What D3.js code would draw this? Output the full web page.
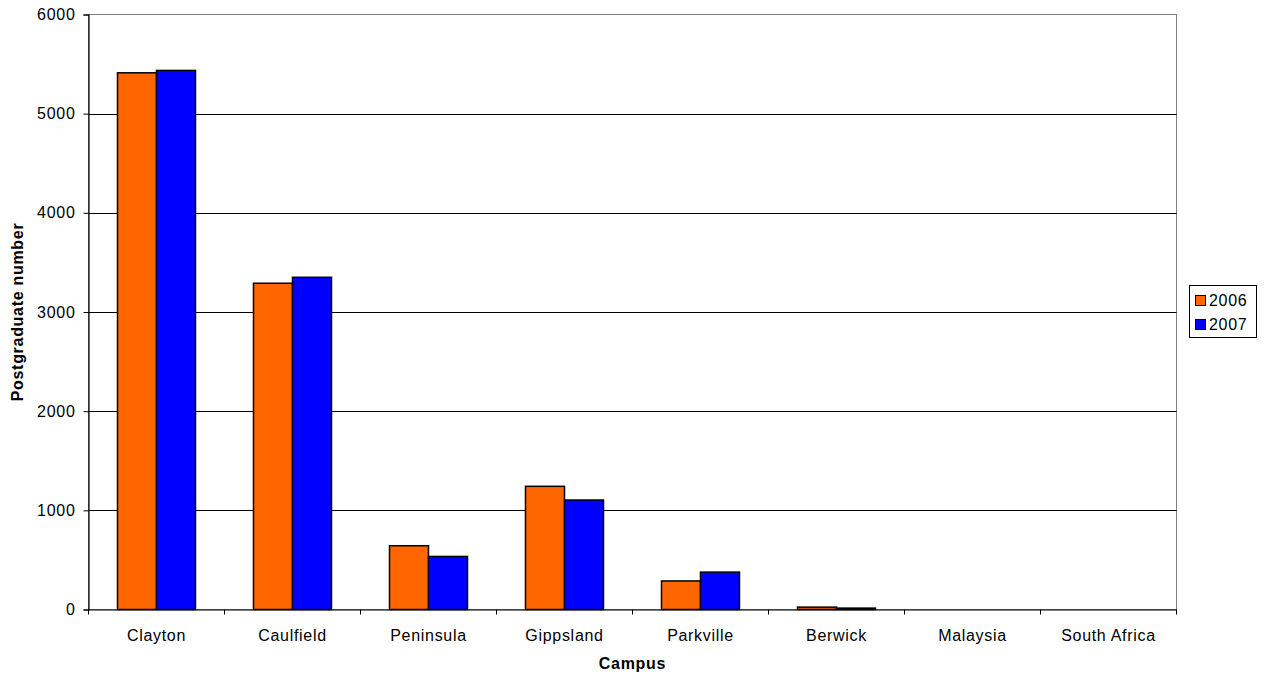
<!DOCTYPE html>
<html>
<head>
<meta charset="utf-8">
<script src="https://cdn.jsdelivr.net/npm/d3@7"></script>
<style>
  html, body { margin: 0; padding: 0; background: #fff; }
  svg { display: block; }
  text { font-family: "Liberation Sans", Arial, sans-serif; fill: #000; }
</style>
</head>
<body>
<svg id="chart" width="1266" height="680"></svg>
<script>
const categories = ["Clayton", "Caulfield", "Peninsula", "Gippsland", "Parkville", "Berwick", "Malaysia", "South Africa"];
const seriesNames = ["2006", "2007"];
const values2006 = [5412, 3290, 643, 1242, 288, 24, 0, 0];
const values2007 = [5436, 3350, 535, 1104, 377, 14, 0, 0];
const yTicks = [0, 1000, 2000, 3000, 4000, 5000, 6000];
const seriesColors = ["#FF6600", "#0000FF"];

const seriesValues = [values2006, values2007];
const svg = d3.select("#chart");
const L = 88.5, R = 1176.5, T = 14.5, B = 609.5;
const fontSize = "16px", ls = "0.7px";

const x0 = d3.scaleBand().domain(categories).range([L, R]).paddingInner(0).paddingOuter(0);
const x1 = d3.scaleBand().domain(seriesNames).range([0, x0.bandwidth()]).paddingInner(0).paddingOuter(0.744);
const y = d3.scaleLinear().domain([0, 6000]).range([B, T]);

// plot border (gray)
svg.append("rect").attr("x", L).attr("y", T).attr("width", R - L).attr("height", B - T)
  .attr("fill", "none").attr("stroke", "#808080").attr("stroke-width", 1);

// gridlines
svg.append("g").selectAll("line").data(yTicks.filter(d => d > 0 && d < 6000)).join("line")
  .attr("x1", L).attr("x2", R)
  .attr("y1", d => Math.round(y(d)) + 0.5).attr("y2", d => Math.round(y(d)) + 0.5)
  .attr("stroke", "#000").attr("stroke-width", 1);

// bars
const rows = categories.map((c, i) => ({ cat: c, vals: seriesNames.map((s, j) => ({ s, j, v: seriesValues[j][i] })) }));
const groups = svg.append("g").selectAll("g").data(rows).join("g")
  .attr("transform", d => `translate(${x0(d.cat)},0)`);
groups.selectAll("rect").data(d => d.vals.filter(v => v.v > 0)).join("rect")
  .attr("x", d => x1(d.s))
  .attr("y", d => y(d.v))
  .attr("width", x1.bandwidth())
  .attr("height", d => B - y(d.v))
  .attr("fill", d => seriesColors[d.j])
  .attr("stroke", "#000").attr("stroke-width", 1.5);

// y axis
const yAxis = svg.append("g").attr("transform", `translate(${L},0)`)
  .call(d3.axisLeft(y).tickValues(yTicks).tickSize(5).tickPadding(8).tickFormat(d3.format("d")));
yAxis.select(".domain").attr("stroke", "#000").attr("stroke-width", 1.2);
yAxis.selectAll(".tick line").attr("stroke", "#000");
yAxis.selectAll("text").style("font-size", fontSize).style("letter-spacing", ls)
  .style("font-family", "'Liberation Sans', Arial, sans-serif").attr("fill", "#000");

// x axis
const xAxis = svg.append("g").attr("transform", `translate(0,${B})`)
  .call(d3.axisBottom(x0).tickSize(0).tickPadding(20));
xAxis.select(".domain").attr("stroke", "#000").attr("stroke-width", 1.2);
xAxis.selectAll("text").style("font-size", fontSize).style("letter-spacing", ls)
  .style("font-family", "'Liberation Sans', Arial, sans-serif").attr("fill", "#000");
// category boundary ticks
const bounds = categories.map(c => x0(c)).concat([x0(categories[categories.length - 1]) + x0.bandwidth()]);
svg.append("g").selectAll("line").data(bounds).join("line")
  .attr("x1", d => d).attr("x2", d => d).attr("y1", B).attr("y2", B + 5)
  .attr("stroke", "#000").attr("stroke-width", 1);

// axis titles
svg.append("text").attr("x", (L + R) / 2).attr("y", 669)
  .attr("text-anchor", "middle").style("font-size", fontSize).style("letter-spacing", ls)
  .style("font-weight", "bold").text("Campus");
svg.append("text").attr("transform", `translate(23,${(T + B) / 2}) rotate(-90)`)
  .attr("text-anchor", "middle").style("font-size", fontSize).style("letter-spacing", ls)
  .style("font-weight", "bold").text("Postgraduate number");

// legend
const lg = svg.append("g");
lg.append("rect").attr("x", 1189.5).attr("y", 285.5).attr("width", 67).attr("height", 52)
  .attr("fill", "#fff").attr("stroke", "#000").attr("stroke-width", 1);
const items = lg.selectAll("g").data(seriesNames).join("g")
  .attr("transform", (d, i) => `translate(0,${i * 24})`);
items.append("rect").attr("x", 1195.5).attr("y", 295.5).attr("width", 10).attr("height", 10)
  .attr("fill", (d, i) => seriesColors[i]).attr("stroke", "#000").attr("stroke-width", 1);
items.append("text").attr("x", 1209).attr("y", 306).style("font-size", fontSize).style("letter-spacing", ls)
  .text(d => d);
</script>
</body>
</html>
